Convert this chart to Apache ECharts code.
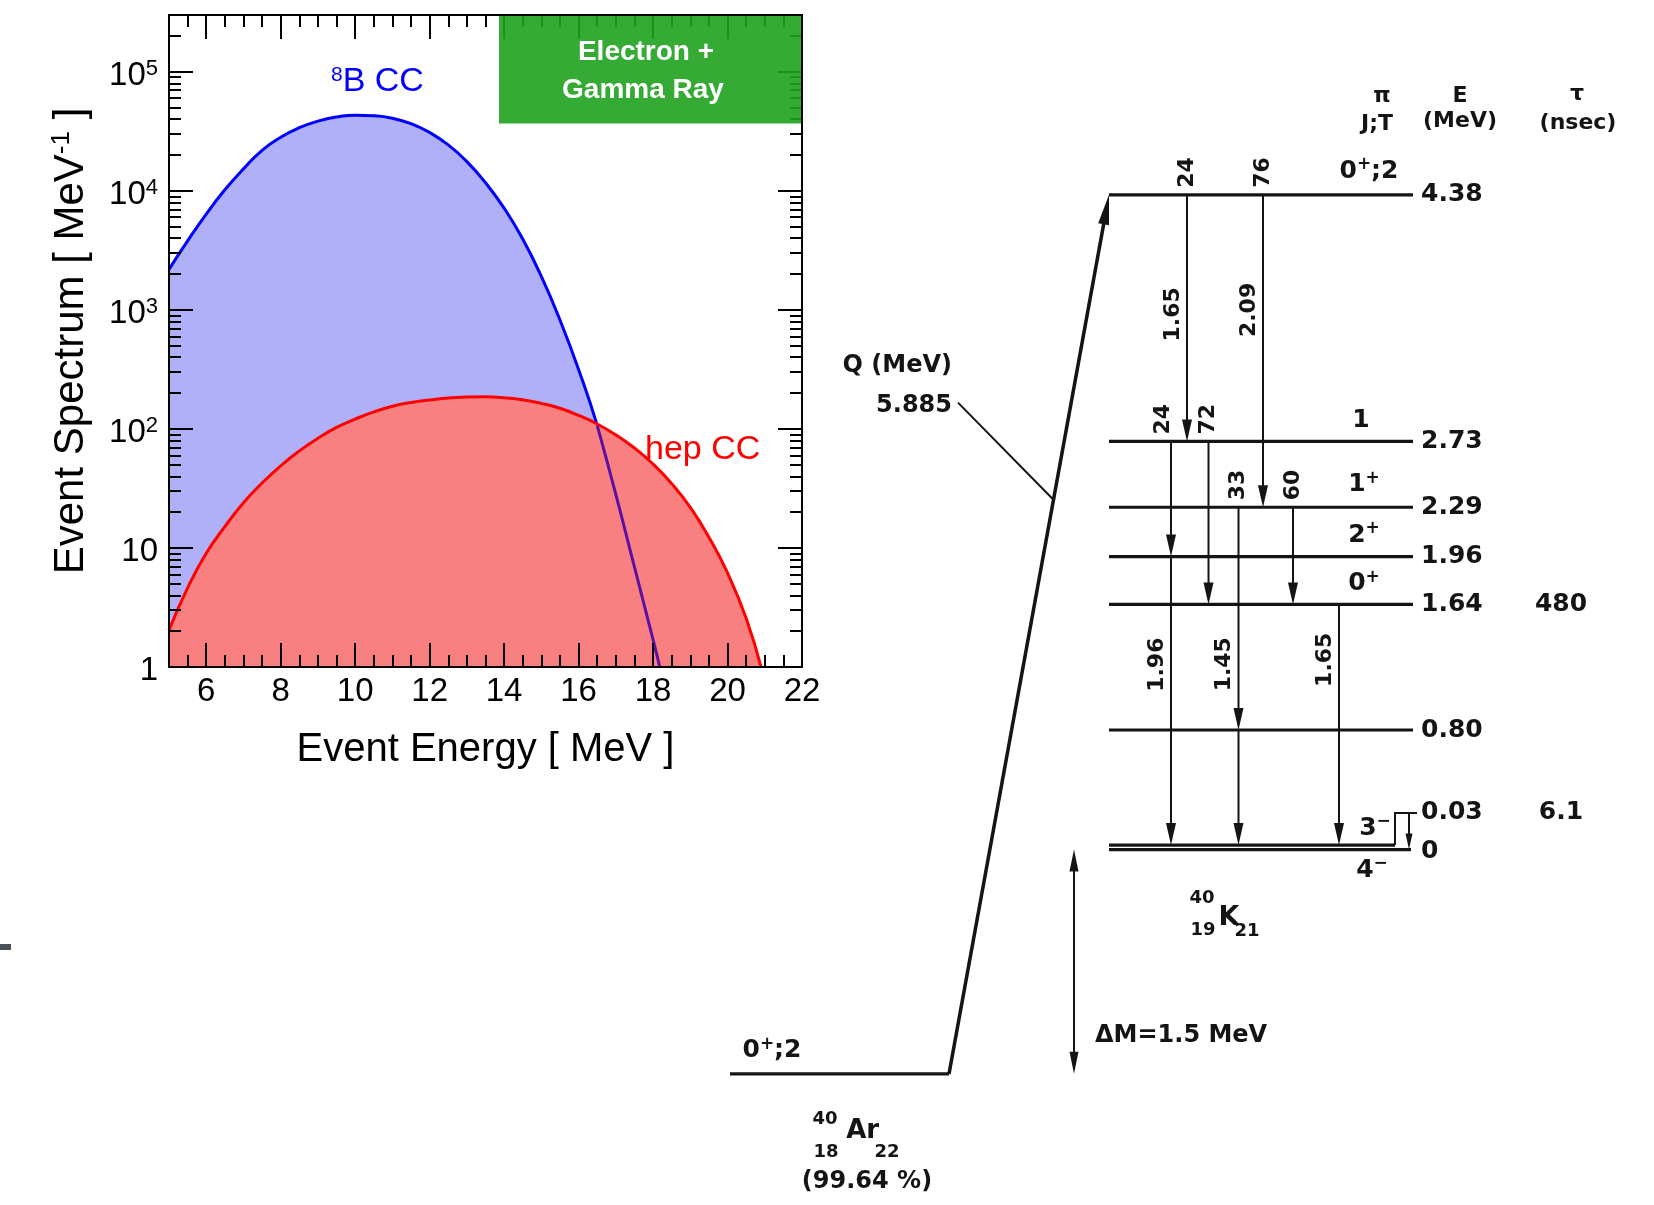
<!DOCTYPE html>
<html>
<head>
<meta charset="utf-8">
<script src="https://cdn.jsdelivr.net/npm/echarts@6/dist/echarts.min.js"></script>
<style>
html,body{margin:0;padding:0;background:#ffffff;}
#chart{width:1654px;height:1205px;}
</style>
</head>
<body>
<div id="chart"></div>
<script>
// ================= DATA: neutrino event spectra =================
const energyB8 = [5,5.5,6,6.5,7,7.5,8,8.5,9,9.5,10,10.5,11,11.5,12,12.5,13,13.5,14,14.5,15,15.5,16,16.5,17,17.5,18,18.18];
const spectrumB8 = [2190,3800,6380,10200,15300,21900,28200,33900,38500,41700,43200,42700,40700,36700,30900,24300,17600,11700,7160,3940,1910,822,316,107,28.2,6.92,1.70,1.0];
const energyHep = [5,5.5,6,6.5,7,7.5,8,8.5,9,9.5,10,10.5,11,11.5,12,12.5,13,13.5,14,14.5,15,15.5,16,16.5,17,17.5,18,18.5,19,19.5,20,20.5,20.9];
const spectrumHep = [2.04,4.62,9.02,15.1,24.0,35.1,49.0,65.3,83.6,103,121,139,155,167,175,182,185,186,183,176,164,149,130,110,89.1,69.2,50.7,34.7,21.9,12.3,6.17,2.57,1.0];
const xTickLabels = [6,8,10,12,14,16,18,20,22];
const yTickValues = [1,10,100,1000,10000,100000];

// ================= DATA: 40Ar -> 40K level scheme =================
const levelEnergy = [4.38, 2.73, 2.29, 1.96, 1.64, 0.80, 0.03, 0.00];
const levelEnergyText = ['4.38','2.73','2.29','1.96','1.64','0.80','0.03','0'];
const levelSpin = ['0{p|+};2','1','1{p|+}','2{p|+}','0{p|+}','','3{p|\u2212}','4{p|\u2212}'];
const levelLifetime = ['','','','','480','','6.1',''];
const gammaFrom = [4.38, 4.38, 2.73, 2.73, 2.29, 0.80, 2.29, 1.96, 1.64, 0.03];
const gammaTo   = [2.73, 2.29, 1.96, 1.64, 0.80, 0.03, 1.64, 0.03, 0.03, 0.00];
const gammaEnergyText = ['1.65','2.09','','','1.45','','','1.96','1.65',''];
const gammaBranchText = ['24','76','24','72','33','','60','','',''];
const parentEnergy = -1.5;
const parentSpin = '0{p|+};2';
const qValueText = '5.885';
const deltaMText = '\u0394M=1.5 MeV';
const abundanceText = '(99.64 %)';
const headerText = ['\u03c0','J;T','E','(MeV)','\u03c4','(nsec)'];

// ================= LAYOUT (positions in scheme units / MeV) =================
const LS = {
  levelX0: 40.9,
  levelX1: [71.3,71.3,71.3,71.3,71.3,71.3,69.5,71.1],
  levelTextX: 72.1,
  levelTextE: [4.38,2.73,2.29,1.96,1.64,0.80,0.245,-0.015],
  bracketX1: 71.7,
  spinX: [66.9,66.1,66.4,66.4,66.4,0,67.5,67.2],
  spinE: [4.539,2.873,2.439,2.104,1.777,0,0.144,-0.140],
  tauX: 86.1,
  gammaX: [48.7,56.3,47.1,50.85,53.85,53.85,59.3,47.1,63.9,70.9],
  gammaStartE: [null,null,null,null,null,null,null,null,null,0.245],
  gammaLabelE: [3.58,3.61,0,0,1.24,0,0,1.237,1.27,0],
  branchDx: [0,0,-8,0,0,0,0,0,0,0],
  arX0: 3.0, arX1: 24.9,
  arSpin: [7.2, -1.347],
  qLabelX: 25.2, qLabelE: [3.235, 2.967],
  qLeaderStart: [25.8, 2.99], qLeaderE: 2.34,
  dmX: 37.4, dmLabel: [39.5, -1.247],
  headerPos: [[68.2,5.04],[67.7,4.85],[76.0,5.04],[76.0,4.87],[87.7,5.05],[87.8,4.86]],
  kA: [50.2,-0.327], kZ: [50.3,-0.537], kSym: [52.9,-0.457], kN: [54.7,-0.546],
  arA: [12.5,-1.802], arZ: [12.6,-2.023], arSym: [16.27,-1.886], arN: [18.7,-2.023], arAb: [16.7,-2.224]
};

// ================= helpers =================
const SANS = "'Liberation Sans', Arial, Helvetica, sans-serif";
const DF = "'DejaVu Sans', sans-serif";
const INK = '#141414';

const xMinor = [];
for (let v = 5.5; v < 22; v += 0.5) { if (Math.abs(v / 2 - Math.round(v / 2)) > 1e-6) xMinor.push(v); }
const yMinor = [];
yTickValues.forEach(d => { for (let m = 2; m <= 9; m++) { if (m * d <= 300000) yMinor.push(m * d); } });

function T(x, y, text, size, align, rot) {
  return {
    type: 'text', x: x, y: y, rotation: rot || 0,
    style: {
      text: text, fill: INK, fontFamily: DF, fontWeight: 'bold', fontSize: size,
      align: align || 'center', verticalAlign: 'middle',
      rich: { p: { fontSize: Math.round(size * 0.68), fontFamily: DF, fontWeight: 'bold', fill: INK,
                   padding: [0, 0, Math.round(size * 0.5), 0] } }
    }
  };
}
function Ln(a, b, w) {
  return { type: 'line', shape: { x1: a[0], y1: a[1], x2: b[0], y2: b[1] }, style: { stroke: INK, lineWidth: w } };
}
function Head(tip, from, len, wid) {
  const dx = tip[0] - from[0], dy = tip[1] - from[1];
  const L = Math.hypot(dx, dy) || 1, ux = dx / L, uy = dy / L;
  const bx = tip[0] - ux * len, by = tip[1] - uy * len;
  const nx = -uy * wid / 2, ny = ux * wid / 2;
  return { type: 'polygon', shape: { points: [[tip[0], tip[1]], [bx + nx, by + ny], [bx - nx, by - ny]] }, style: { fill: INK } };
}

function axisStyle(w) { return { color: '#000', width: w }; }
function xAx(pos, major, labels) {
  return {
    gridIndex: 0, type: 'value', min: 5, max: 22, position: pos, z: 10,
    axisLine: { show: major, onZero: false, lineStyle: axisStyle(2) },
    axisTick: { show: true, inside: true, length: major ? 24 : 12, customValues: major ? xTickLabels : xMinor, lineStyle: axisStyle(2) },
    axisLabel: labels ? { show: true, customValues: xTickLabels, fontSize: 33, color: '#000', fontFamily: SANS, margin: 8 } : { show: false },
    splitLine: { show: false }
  };
}
function yLabel(v) {
  if (v < 5) return '1';
  if (v < 50) return '10';
  return '10{s|' + Math.round(Math.log10(v)) + '}';
}
function yAx(pos, major, labels) {
  return {
    gridIndex: 0, type: 'log', logBase: 10, min: 1, max: 300000, position: pos, z: 10,
    axisLine: { show: major, onZero: false, lineStyle: axisStyle(2) },
    axisTick: { show: true, inside: true, length: major ? 24 : 12, customValues: major ? yTickValues : yMinor, lineStyle: axisStyle(2) },
    axisLabel: labels ? {
      show: true, customValues: yTickValues, formatter: yLabel, fontSize: 33, color: '#000', fontFamily: SANS, margin: 11,
      padding: [8, 0, 0, 0],
      rich: { s: { fontSize: 22, fontFamily: SANS, color: '#000', padding: [0, 0, 14, 0] } }
    } : { show: false },
    splitLine: { show: false }, minorTick: { show: false }
  };
}

const xAxes = [xAx('bottom', true, true), xAx('bottom', false, false), xAx('top', true, false), xAx('top', false, false)];
xAxes[0].name = 'Event Energy [ MeV ]';
xAxes[0].nameLocation = 'middle';
xAxes[0].nameGap = 63;
xAxes[0].nameTextStyle = { fontSize: 40, color: '#000', fontFamily: SANS };
xAxes.push({ gridIndex: 1, type: 'value', min: 0, max: 95, show: false });

const yAxes = [yAx('left', true, true), yAx('left', false, false), yAx('right', true, false), yAx('right', false, false)];
yAxes[0].name = 'Event Spectrum [ MeV{s|-1} ]';
yAxes[0].nameLocation = 'middle';
yAxes[0].nameRotate = 90;
yAxes[0].nameGap = 76;
yAxes[0].nameTextStyle = { fontSize: 42, color: '#000', fontFamily: SANS,
  rich: { s: { fontSize: 26, fontFamily: SANS, color: '#000', padding: [0, 0, 18, 0] } } };
yAxes.push({ gridIndex: 1, type: 'value', min: -2, max: 5, show: false });

const b8Points = energyB8.map((e, i) => [e, spectrumB8[i]]);
const hepPoints = energyHep.map((e, i) => [e, spectrumHep[i]]);
const b8UnderHep = b8Points.filter(p => p[0] >= 16.5);

// ================= scheme renderers =================
function renderLevel(params, api) {
  const i = params.dataIndex;
  const E = levelEnergy[i];
  const a = api.coord([LS.levelX0, E]), b = api.coord([LS.levelX1[i], E]);
  const ch = [Ln(a, b, 3.2)];
  const t = api.coord([LS.levelTextX, LS.levelTextE[i]]);
  ch.push(T(t[0], t[1], levelEnergyText[i], 25, 'left'));
  if (LS.levelTextE[i] > E + 0.1) {
    const up = api.coord([LS.levelX1[i], LS.levelTextE[i]]);
    const rt = api.coord([LS.bracketX1, LS.levelTextE[i]]);
    ch.push({ type: 'polyline', shape: { points: [b, up, rt] }, style: { stroke: INK, lineWidth: 2, fill: null } });
  }
  if (levelSpin[i]) {
    const s = api.coord([LS.spinX[i], LS.spinE[i]]);
    ch.push(T(s[0], s[1], levelSpin[i], 25, 'center'));
  }
  if (levelLifetime[i]) {
    const s = api.coord([LS.tauX, LS.levelTextE[i]]);
    ch.push(T(s[0], s[1], levelLifetime[i], 25, 'center'));
  }
  return { type: 'group', children: ch };
}

function renderGamma(params, api) {
  const i = params.dataIndex;
  const x = LS.gammaX[i];
  const e0 = LS.gammaStartE[i] != null ? LS.gammaStartE[i] : gammaFrom[i];
  const p0 = api.coord([x, e0]), p1 = api.coord([x, gammaTo[i]]);
  const small = LS.gammaStartE[i] != null;
  const hl = small ? 16 : 22, hw = small ? 7 : 10;
  const ch = [Ln(p0, [p1[0], p1[1] - hl + 2], 2), Head(p1, p0, hl, hw)];
  if (gammaBranchText[i]) {
    const a = api.coord([x, gammaFrom[i]]);
    ch.push(T(a[0] + LS.branchDx[i], a[1] - 7, gammaBranchText[i], 22, 'left', Math.PI / 2));
  }
  if (gammaEnergyText[i]) {
    const m = api.coord([x, LS.gammaLabelE[i]]);
    ch.push(T(m[0] - 14, m[1], gammaEnergyText[i], 22, 'center', Math.PI / 2));
  }
  return { type: 'group', children: ch };
}

function renderParent(params, api) {
  const a0 = api.coord([LS.arX0, parentEnergy]), a1 = api.coord([LS.arX1, parentEnergy]);
  const top = api.coord([LS.levelX0, levelEnergy[0]]);
  const ch = [Ln(a0, a1, 3.2)];
  const dx = top[0] - a1[0], dy = top[1] - a1[1], L = Math.hypot(dx, dy);
  const base = [top[0] - dx / L * 28, top[1] - dy / L * 28];
  ch.push(Ln(a1, base, 3.5));
  ch.push(Head(top, a1, 30, 11));
  const t = (LS.qLeaderE - parentEnergy) / (levelEnergy[0] - parentEnergy);
  const xu = LS.arX1 + t * (LS.levelX0 - LS.arX1);
  ch.push(Ln(api.coord(LS.qLeaderStart), api.coord([xu, LS.qLeaderE]), 2));
  const q1 = api.coord([LS.qLabelX, LS.qLabelE[0]]), q2 = api.coord([LS.qLabelX, LS.qLabelE[1]]);
  ch.push(T(q1[0], q1[1], 'Q (MeV)', 24, 'right'));
  ch.push(T(q2[0], q2[1], qValueText, 24, 'right'));
  const d0 = api.coord([LS.dmX, 0]), d1 = api.coord([LS.dmX, parentEnergy]);
  ch.push(Ln([d0[0], d0[1] + 18], [d1[0], d1[1] - 18], 2));
  ch.push(Head(d0, d1, 22, 9));
  ch.push(Head(d1, d0, 22, 9));
  const dl = api.coord(LS.dmLabel);
  ch.push(T(dl[0], dl[1], deltaMText, 24, 'left'));
  const sp = api.coord(LS.arSpin);
  ch.push(T(sp[0], sp[1], parentSpin, 25, 'center'));
  const P = (p) => api.coord(p);
  let c;
  c = P(LS.kA);   ch.push(T(c[0], c[1], '40', 18, 'center'));
  c = P(LS.kZ);   ch.push(T(c[0], c[1], '19', 18, 'center'));
  c = P(LS.kSym); ch.push(T(c[0], c[1], 'K', 27, 'center'));
  c = P(LS.kN);   ch.push(T(c[0], c[1], '21', 18, 'center'));
  c = P(LS.arA);  ch.push(T(c[0], c[1], '40', 18, 'center'));
  c = P(LS.arZ);  ch.push(T(c[0], c[1], '18', 18, 'center'));
  c = P(LS.arSym);ch.push(T(c[0], c[1], 'Ar', 26, 'center'));
  c = P(LS.arN);  ch.push(T(c[0], c[1], '22', 18, 'center'));
  c = P(LS.arAb); ch.push(T(c[0], c[1], abundanceText, 24, 'center'));
  return { type: 'group', children: ch };
}

function renderHeader(params, api) {
  const i = params.dataIndex;
  const c = api.coord(LS.headerPos[i]);
  return T(c[0], c[1], headerText[i], 22, 'center');
}

const option = {
  animation: false,
  backgroundColor: '#ffffff',
  textStyle: { fontFamily: SANS },
  grid: [
    { left: 169, top: 15, width: 633, height: 652, containLabel: false, outerBoundsMode: 'none' },
    { left: 700, top: 102.1, width: 950, height: 1046.5, containLabel: false, outerBoundsMode: 'none' }
  ],
  xAxis: xAxes,
  yAxis: yAxes,
  series: [
    { type: 'line', name: '8B CC', xAxisIndex: 0, yAxisIndex: 0, data: b8Points, smooth: 0.5,
      symbol: 'none', lineStyle: { color: '#0000ff', width: 3 },
      areaStyle: { color: '#b0b0f8', opacity: 1, origin: 'start' }, z: 2 },
    { type: 'line', name: 'hep CC', xAxisIndex: 0, yAxisIndex: 0, data: hepPoints, smooth: 0.5,
      symbol: 'none', lineStyle: { color: '#ff0000', width: 3 },
      areaStyle: { color: '#f88080', opacity: 1, origin: 'start' }, z: 3 },
    { type: 'line', name: '8B CC (behind hep)', xAxisIndex: 0, yAxisIndex: 0, data: b8UnderHep, smooth: 0.5,
      symbol: 'none', lineStyle: { color: '#5a10a0', width: 3 }, z: 4 },
    { type: 'custom', name: 'levels', coordinateSystem: 'cartesian2d', xAxisIndex: 4, yAxisIndex: 4,
      data: levelEnergy.map(e => [LS.levelX0, e]), renderItem: renderLevel, silent: true },
    { type: 'custom', name: 'gammas', coordinateSystem: 'cartesian2d', xAxisIndex: 4, yAxisIndex: 4,
      data: gammaFrom.map((e, i) => [LS.gammaX[i], e]), renderItem: renderGamma, silent: true },
    { type: 'custom', name: 'parent', coordinateSystem: 'cartesian2d', xAxisIndex: 4, yAxisIndex: 4,
      data: [[LS.arX1, parentEnergy]], renderItem: renderParent, silent: true },
    { type: 'custom', name: 'headers', coordinateSystem: 'cartesian2d', xAxisIndex: 4, yAxisIndex: 4,
      data: LS.headerPos.map(p => [p[0], p[1]]), renderItem: renderHeader, silent: true }
  ],
  graphic: [
    { type: 'rect', shape: { x: 499, y: 16, width: 302, height: 107.5 }, style: { fill: 'rgba(31,161,31,0.9)' }, z: 20 },
    { type: 'text', x: 646, y: 52, z: 21,
      style: { text: 'Electron +', fill: '#ffffff', fontSize: 28, fontWeight: 'bold', fontFamily: SANS, align: 'center', verticalAlign: 'middle', textAlign: 'center', textVerticalAlign: 'middle' } },
    { type: 'text', x: 643, y: 90, z: 21,
      style: { text: 'Gamma Ray', fill: '#ffffff', fontSize: 28, fontWeight: 'bold', fontFamily: SANS, align: 'center', verticalAlign: 'middle', textAlign: 'center', textVerticalAlign: 'middle' } },
    { type: 'text', x: 331, y: 82, z: 21,
      style: { text: '{s|8}B CC', fill: '#0000ff', fontSize: 34, fontFamily: SANS, align: 'left', verticalAlign: 'middle', textAlign: 'left', textVerticalAlign: 'middle',
        rich: { s: { fontSize: 21, fontFamily: SANS, fill: '#0000ff', padding: [0, 0, 14, 0] } } } },
    { type: 'text', x: 645, y: 450, z: 21,
      style: { text: 'hep CC', fill: '#ff0000', fontSize: 34, fontFamily: SANS, align: 'left', verticalAlign: 'middle', textAlign: 'left', textVerticalAlign: 'middle' } },
    { type: 'rect', shape: { x: 0, y: 944, width: 11, height: 6 }, style: { fill: '#4b5159' }, z: 21 }
  ]
};

const chart = echarts.init(document.getElementById('chart'), null, { renderer: 'canvas' });
chart.setOption(option);
</script>
</body>
</html>
